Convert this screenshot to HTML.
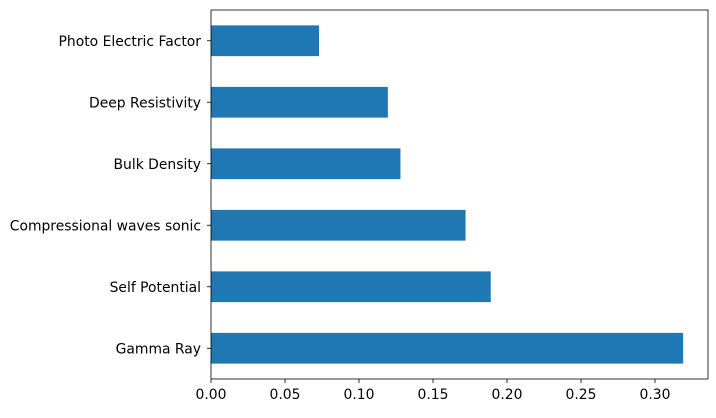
<!DOCTYPE html>
<html><head><meta charset="utf-8"><style>
body{margin:0;background:#fff;}
svg text{font-family:"DejaVu Sans","Liberation Sans",sans-serif;font-size:13.9px;fill:#000;}
</style></head><body>
<svg id="chart" width="716" height="413"></svg>
<script>
const categories=["Gamma Ray","Self Potential","Compressional waves sonic","Bulk Density","Deep Resistivity","Photo Electric Factor"];
const values=[0.319,0.189,0.172,0.128,0.1195,0.073];
const xTicks=[0,0.05,0.10,0.15,0.20,0.25,0.30];
const xTickLabels=["0.00","0.05","0.10","0.15","0.20","0.25","0.30"];
const L=211,R=708,T=10,B=379,xMax=0.3358;
const NS="http://www.w3.org/2000/svg";
const svg=document.getElementById('chart');
const xs=v=>L+v/xMax*(R-L);
const step=(B-T)/categories.length;
const yc=i=>B-step*(i+0.5);
function mk(t,a){const e=document.createElementNS(NS,t);for(const k in a)e.setAttribute(k,a[k]);svg.appendChild(e);return e;}
values.forEach((v,i)=>{
 const r=mk('rect',{x:L,y:yc(i)-step*0.25,width:xs(v)-L,height:step*0.5,fill:'#1f77b4'});
 
 
 mk('line',{x1:L-4,x2:L,y1:yc(i),y2:yc(i),stroke:'#000','stroke-width':0.8});
 const t=mk('text',{x:L-10,y:yc(i)+5,'text-anchor':'end'});t.textContent=categories[i];
 
 
});
xTicks.forEach((v,i)=>{
 mk('line',{x1:xs(v),x2:xs(v),y1:B,y2:B+4,stroke:'#000','stroke-width':0.8});
 const t=mk('text',{x:xs(v),y:B+20,'text-anchor':'middle'});t.textContent=xTickLabels[i];
 
 
});
const f=mk('rect',{x:L,y:T,width:R-L,height:B-T,fill:'none',stroke:'#000','stroke-width':0.8});


</script>
</body></html>
